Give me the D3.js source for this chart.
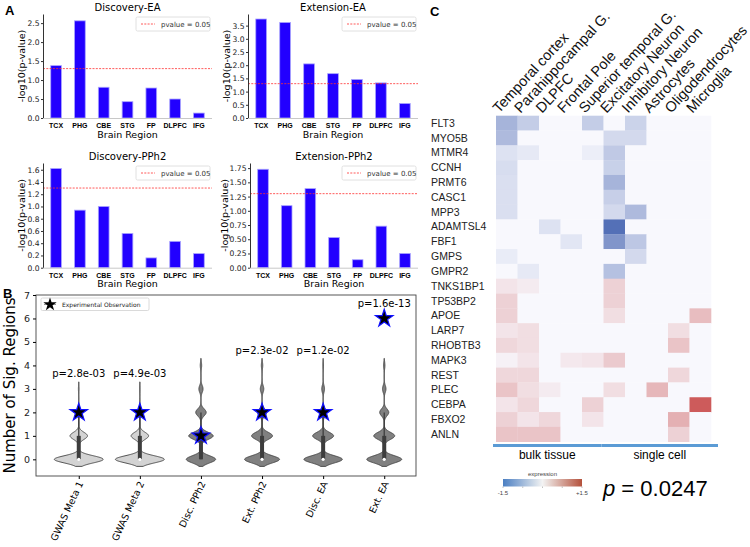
<!DOCTYPE html>
<html>
<head>
<meta charset="utf-8">
<script src="https://cdn.jsdelivr.net/npm/d3@7"></script>
<style>
  body { margin: 0; background: #fff; }
  svg { display: block; }
</style>
</head>
<body>
<div class="container"></div>
<script>
// ---- panel A data ----
const regions = ["TCX", "PHG", "CBE", "STG", "FP", "DLPFC", "IFG"];
const discoveryEA = [1.38, 2.56, 0.81, 0.43, 0.79, 0.5, 0.13];
const extensionEA = [3.75, 3.62, 2.05, 1.68, 1.46, 1.33, 0.55];
const discoveryPPh2 = [1.62, 0.94, 1.0, 0.56, 0.16, 0.43, 0.23];
const extensionPPh2 = [1.73, 1.09, 1.39, 0.53, 0.14, 0.73, 0.25];
const pThreshold = 0.05;

// ---- panel B data ----
const violinGroups = ["GWAS Meta 1", "GWAS Meta 2", "Disc. PPh2", "Ext. PPh2", "Disc. EA", "Ext. EA"];
// share of null draws with 0,1,2,3,4 significant regions
const nullFreqs = [
  [0.7, 0.25, 0.04, 0.01],
  [0.7, 0.25, 0.04, 0.01],
  [0.42, 0.35, 0.15, 0.06, 0.02],
  [0.5, 0.3, 0.13, 0.05, 0.02],
  [0.55, 0.3, 0.1, 0.04, 0.01],
  [0.5, 0.3, 0.13, 0.05, 0.02],
];
const observed = [2, 2, 1, 2, 2, 6];
const pLabels = ["p=2.8e-03", "p=4.9e-03", "", "p=2.3e-02", "p=1.2e-02", "p=1.6e-13"];
const lightGroups = [true, true, false, false, false, false];

// ---- panel C data ----
const cellTypes = ["Temporal cortex", "Parahippocampal G.", "DLPFC", "Frontal Pole",
  "Superior temporal G.", "Excitatory Neuron", "Inhibitory Neuron", "Astrocytes",
  "Oligodendrocytes", "Microglia"];
const genes = ["FLT3", "MYO5B", "MTMR4", "CCNH", "PRMT6", "CASC1", "MPP3", "ADAMTSL4",
  "FBF1", "GMPS", "GMPR2", "TNKS1BP1", "TP53BP2", "APOE", "LARP7", "RHOBTB3", "MAPK3",
  "REST", "PLEC", "CEBPA", "FBXO2", "ANLN"];
const expression = [
  [-0.55, -0.35, 0, 0, -0.35, 0, -0.3, 0, 0, 0],
  [-0.5, 0, 0, 0, 0, -0.25, -0.25, 0, 0, 0],
  [-0.18, -0.12, 0, 0, -0.08, -0.38, 0, 0, 0, 0],
  [-0.22, 0, 0, 0, 0, -0.32, 0, 0, 0, 0],
  [-0.2, 0, 0, 0, 0, -0.55, 0, 0, 0, 0],
  [-0.2, 0, 0, 0, 0, -0.33, 0, 0, 0, 0],
  [-0.2, 0, 0, 0, 0, -0.25, -0.5, 0, 0, 0],
  [0, 0, -0.18, 0, 0, -1.1, 0, 0, 0, 0],
  [0, 0, 0, -0.15, 0, -0.8, -0.4, 0, 0, 0],
  [-0.1, 0, 0, 0, 0, 0, -0.25, 0, 0, 0],
  [0, -0.12, 0, 0, 0, -0.45, 0, 0, 0, 0],
  [0.15, 0.1, 0, 0, 0, 0.3, 0, 0, 0, 0],
  [0.3, 0, 0, 0, 0, 0.3, 0, 0, 0, 0],
  [0.3, 0, 0, 0, 0, 0.2, 0, 0, 0, 0.45],
  [0.15, 0.2, 0, 0, 0, 0, 0, 0, 0.2, 0],
  [0.25, 0.2, 0, 0, 0, 0, 0, 0, 0.4, 0],
  [0.05, 0.15, 0, 0.12, 0.15, 0.35, 0, 0, 0, 0],
  [0.25, 0.25, 0, 0, 0, 0, 0, 0, 0.25, 0],
  [0.4, 0.2, 0.1, 0, 0, 0.2, 0, 0.5, 0, 0],
  [0.15, 0.25, 0, 0, 0.3, 0, 0, 0, 0, 1.2],
  [0.3, 0.15, 0.25, 0, 0.15, 0, 0, 0, 0.55, 0],
  [0.4, 0.4, 0.4, 0, 0, 0, 0, 0, 0.3, 0],
];
const groupNames = ["bulk tissue", "single cell"];
const groupSizes = [5, 5];
const colorRange = [-1.5, 1.5];
const enrichmentP = "0.0247";

const W = 750, H = 547;
const mpl = "'DejaVu Sans', sans-serif";
const arial = "'Liberation Sans', Arial, sans-serif";

const svg = d3.create("svg").attr("width", W).attr("height", H).attr("viewBox", [0, 0, W, H]);
svg.append("rect").attr("width", W).attr("height", H).attr("fill", "#fff");

// panel letters
[["A", 5, 15], ["B", 3, 298], ["C", 430, 16]].forEach(([t, x, y]) => {
  svg.append("text").attr("x", x).attr("y", y).text(t)
    .style("font-family", arial).style("font-weight", "bold").style("font-size", "13px");
});

// ---------------- panel A ----------------
function barPanel(vals, cfg) {
  const g = svg.append("g");
  const x = d3.scaleLinear().domain([-0.55, 6.55]).range([cfg.left, cfg.right]);
  const y = d3.scaleLinear().domain([0, cfg.ymax]).range([cfg.bottom, cfg.top]);
  const bw = x(0.45) - x(0);

  g.selectAll("rect.bar").data(vals).join("rect")
    .attr("class", "bar")
    .attr("x", (d, i) => x(i) - bw / 2)
    .attr("y", (d) => y(d))
    .attr("width", bw)
    .attr("height", (d) => y(0) - y(d))
    .attr("fill", "#2200ff")
    .attr("stroke", "#a9a4ff")
    .attr("stroke-width", 0.8);

  // threshold line
  const thr = -Math.log10(pThreshold);
  g.append("line").attr("x1", cfg.left).attr("x2", cfg.right)
    .attr("y1", y(thr)).attr("y2", y(thr))
    .attr("stroke", "#ff3030").attr("stroke-width", 0.8).attr("stroke-dasharray", "2,1.3");

  // y axis
  const ya = g.append("g").attr("transform", `translate(${cfg.left},0)`)
    .call(d3.axisLeft(y).tickValues(cfg.ticks).tickFormat(d3.format(cfg.fmt))
      .tickSize(2).tickPadding(1.5).tickSizeOuter(0));
  ya.select(".domain").attr("stroke", "#333");
  ya.selectAll(".tick line").attr("stroke", "#333");
  ya.selectAll("text").style("font-family", mpl).style("font-size", "7.6px").attr("fill", "#222");

  // x axis
  g.append("line").attr("x1", cfg.left).attr("x2", cfg.right)
    .attr("y1", cfg.bottom + 0.5).attr("y2", cfg.bottom + 0.5)
    .attr("stroke", "#c8c8c8").attr("stroke-width", 1);
  g.selectAll("text.xt").data(regions).join("text").attr("class", "xt")
    .attr("x", (d, i) => x(i)).attr("y", cfg.bottom + 10)
    .attr("text-anchor", "middle").text((d) => d)
    .style("font-family", arial).style("font-weight", "bold").style("font-size", "7px");

  const cx = (cfg.left + cfg.right) / 2;
  g.append("text").attr("x", cx).attr("y", cfg.bottom + 19.5).attr("text-anchor", "middle")
    .text("Brain Region").style("font-family", mpl).style("font-size", "9.5px");
  g.append("text").attr("x", cx).attr("y", cfg.top - 3).attr("text-anchor", "middle")
    .text(cfg.title).style("font-family", mpl).style("font-size", "10px");
  g.append("text")
    .attr("transform", `translate(${cfg.left - cfg.labelGap},${(cfg.top + cfg.bottom) / 2}) rotate(-90)`)
    .attr("text-anchor", "middle").text("-log10(p-value)")
    .style("font-family", mpl).style("font-size", "9.5px");

  // legend
  const lx = cfg.right - 76, ly = cfg.top + 3;
  g.append("rect").attr("x", lx).attr("y", ly).attr("width", 74).attr("height", 14)
    .attr("rx", 1.5).attr("fill", "#fff").attr("stroke", "#d8d8d8").attr("stroke-width", 0.8);
  g.append("line").attr("x1", lx + 5).attr("x2", lx + 19).attr("y1", ly + 7).attr("y2", ly + 7)
    .attr("stroke", "#ff3030").attr("stroke-width", 0.8).attr("stroke-dasharray", "2,1.3");
  g.append("text").attr("x", lx + 25).attr("y", ly + 9.5).text("pvalue = 0.05")
    .style("font-family", mpl).style("font-size", "7px").attr("fill", "#333");
}

barPanel(discoveryEA, { title: "Discovery-EA", left: 43, right: 212, top: 14, bottom: 118,
  ymax: 2.74, ticks: d3.range(0, 2.51, 0.5), fmt: ".1f", labelGap: 18 });
barPanel(extensionEA, { title: "Extension-EA", left: 248, right: 418, top: 14, bottom: 118,
  ymax: 3.94, ticks: d3.range(0, 3.51, 0.5), fmt: ".1f", labelGap: 18 });
barPanel(discoveryPPh2, { title: "Discovery-PPh2", left: 43, right: 212, top: 163, bottom: 267.7,
  ymax: 1.71, ticks: d3.range(0, 1.61, 0.2), fmt: ".1f", labelGap: 18 });
barPanel(extensionPPh2, { title: "Extension-PPh2", left: 250, right: 418, top: 163, bottom: 267.7,
  ymax: 1.84, ticks: d3.range(0, 1.76, 0.25), fmt: ".2f", labelGap: 22 });

// ---------------- panel B ----------------
const bLeft = 36, bRight = 416, bTop = 295, bBottom = 476;
const xB = d3.scaleLinear().domain([-0.7, 5.52]).range([bLeft, bRight]);
const yB = d3.scaleLinear().domain([-0.71, 7]).range([bBottom, bTop]);
const gB = svg.append("g");

const kbw = 0.15;
function density(freqs, v) {
  return d3.sum(freqs, (f, k) => f * Math.exp(-0.5 * ((v - k) / kbw) ** 2));
}
const allDens = nullFreqs.map((fr) => {
  const hi = fr.length - 1;
  const grid = d3.range(-2 * kbw, hi + 2 * kbw + 1e-9, 0.01);
  return grid.map((v) => [v, density(fr, v)]);
});
const maxDens = d3.max(allDens, (a) => d3.max(a, (d) => d[1]));
const halfMax = 0.4; // in group units

allDens.forEach((pts, i) => {
  const area = d3.area()
    .y((d) => yB(d[0]))
    .x0((d) => xB(i - (d[1] / maxDens) * halfMax))
    .x1((d) => xB(i + (d[1] / maxDens) * halfMax))
    .curve(d3.curveLinear);
  gB.append("path").datum(pts).attr("d", area)
    .attr("fill", lightGroups[i] ? "#d3d3d3" : "#808080")
    .attr("stroke", "#404040").attr("stroke-width", 0.9);

  // inner box from the frequencies
  const fr = nullFreqs[i];
  const cum = d3.cumsum(fr);
  const q = (p) => cum.findIndex((c) => c >= p - 1e-9);
  const q1 = q(0.25), med = q(0.5), q3 = q(0.75);
  const iqr = q3 - q1;
  const whiskHi = d3.max(fr.map((f, k) => (f > 0 && k <= q3 + 1.5 * iqr ? k : 0)));
  gB.append("line").attr("x1", xB(i)).attr("x2", xB(i))
    .attr("y1", yB(q1)).attr("y2", yB(whiskHi))
    .attr("stroke", "#3d3d3d").attr("stroke-width", 1.3);
  gB.append("line").attr("x1", xB(i)).attr("x2", xB(i))
    .attr("y1", yB(q1)).attr("y2", yB(q3))
    .attr("stroke", "#3d3d3d").attr("stroke-width", 4);
  gB.append("circle").attr("cx", xB(i)).attr("cy", yB(med)).attr("r", 1.6).attr("fill", "#fff");
});

const star = d3.symbol().type(d3.symbolStar).size(95);
gB.selectAll("path.obs").data(observed).join("path").attr("class", "obs")
  .attr("d", star)
  .attr("transform", (d, i) => `translate(${xB(i)},${yB(d)})`)
  .attr("fill", "#000").attr("stroke", "#1010ff").attr("stroke-width", 1.2);

gB.selectAll("text.pl").data(pLabels).join("text").attr("class", "pl")
  .attr("x", (d, i) => xB(i))
  .attr("y", (d, i) => yB(Math.max(nullFreqs[i].length - 1 + 2 * kbw + 0.2, observed[i] + 0.5)))
  .attr("text-anchor", "middle").text((d) => d)
  .style("font-family", mpl).style("font-size", "10px");

// frame
gB.append("rect").attr("x", bLeft).attr("y", bTop).attr("width", bRight - bLeft)
  .attr("height", bBottom - bTop).attr("fill", "none").attr("stroke", "#444").attr("stroke-width", 0.9);

const yaB = gB.append("g").attr("transform", `translate(${bLeft},0)`)
  .call(d3.axisLeft(yB).tickValues(d3.range(0, 8)).tickSize(3).tickSizeOuter(0));
yaB.select(".domain").remove();
yaB.selectAll("text").style("font-family", mpl).style("font-size", "9.5px").attr("fill", "#222");

const xaB = gB.append("g").attr("transform", `translate(0,${bBottom})`)
  .call(d3.axisBottom(xB).tickValues(d3.range(violinGroups.length)).tickSize(3)
    .tickFormat((d) => violinGroups[d]));
xaB.select(".domain").remove();
xaB.selectAll("text")
  .attr("transform", "rotate(-65)")
  .attr("text-anchor", "end")
  .attr("dx", "-0.5em").attr("dy", "0.1em")
  .style("font-family", mpl).style("font-size", "9.5px");

gB.append("text")
  .attr("transform", `translate(15,${(bTop + bBottom) / 2}) rotate(-90)`)
  .attr("text-anchor", "middle").text("Number of Sig. Regions")
  .style("font-family", mpl).style("font-size", "15px");

// legend
gB.append("rect").attr("x", 41).attr("y", 298).attr("width", 108).attr("height", 12.5)
  .attr("rx", 1.5).attr("fill", "#fff").attr("stroke", "#d0d0d0").attr("stroke-width", 0.8);
gB.append("line").attr("x1", 44).attr("x2", 56).attr("y1", 304.3).attr("y2", 304.3)
  .attr("stroke", "#555").attr("stroke-width", 0.8);
gB.append("path").attr("d", d3.symbol().type(d3.symbolStar).size(55))
  .attr("transform", "translate(50,304.5)").attr("fill", "#000");
gB.append("text").attr("x", 62).attr("y", 306.8).text("Experimental Observation")
  .style("font-family", mpl).style("font-size", "6px").attr("fill", "#222");

// ---------------- panel C ----------------
const hLeft = 496, hRight = 711, hTop = 115.7, hBottom = 441.7;
const xC = d3.scaleBand().domain(d3.range(cellTypes.length)).range([hLeft, hRight]);
const yC = d3.scaleBand().domain(d3.range(genes.length)).range([hTop, hBottom]);
const heatColor = d3.scaleLinear().domain([colorRange[0], 0, colorRange[1]])
  .range(["#193f9e", "#f8f8fd", "#c23433"]).clamp(true);
const gC = svg.append("g");

const cells = [];
expression.forEach((row, r) => row.forEach((v, c) => cells.push({ r, c, v })));
gC.selectAll("rect.cell").data(cells).join("rect").attr("class", "cell")
  .attr("x", (d) => xC(d.c)).attr("y", (d) => yC(d.r))
  .attr("width", xC.bandwidth() + 0.3).attr("height", yC.bandwidth() + 0.3)
  .attr("fill", (d) => heatColor(d.v));

gC.selectAll("text.gene").data(genes).join("text").attr("class", "gene")
  .attr("x", 431).attr("y", (d, i) => yC(i) + yC.bandwidth() / 2 + 3.6)
  .text((d) => d).style("font-family", arial).style("font-size", "10.5px").attr("fill", "#222");

gC.selectAll("text.col").data(cellTypes).join("text").attr("class", "col")
  .attr("transform", (d, i) => `translate(${xC(i) + 3},${hTop - 2}) rotate(-47)`)
  .text((d) => d).style("font-family", arial).style("font-size", "14.5px").attr("fill", "#111");

// group bars
let start = 0;
groupNames.forEach((name, gi) => {
  const x0 = xC(start) - 3 + (gi > 0 ? 1 : 0);
  const x1 = xC(start + groupSizes[gi] - 1) + xC.bandwidth() + (gi > 0 ? 7 : -2);
  gC.append("line").attr("x1", x0).attr("x2", x1).attr("y1", 445.5).attr("y2", 445.5)
    .attr("stroke", "#5b9bd5").attr("stroke-width", 3);
  gC.append("text").attr("x", (x0 + x1) / 2).attr("y", 458.5).attr("text-anchor", "middle")
    .text(name).style("font-family", arial).style("font-size", "12px");
  start += groupSizes[gi];
});

// colour bar
const cbar = d3.scaleLinear().domain([colorRange[0], 0, colorRange[1]])
  .range(["#4b7fc2", "#f3f3f3", "#b4513b"]);
const cbX = d3.scaleLinear().domain(colorRange).range([503, 582]);
const grad = svg.append("defs").append("linearGradient").attr("id", "cbgrad");
d3.range(0, 1.001, 0.1).forEach((t) => {
  grad.append("stop").attr("offset", t).attr("stop-color", cbar(colorRange[0] + t * (colorRange[1] - colorRange[0])));
});
gC.append("rect").attr("x", cbX(colorRange[0])).attr("y", 479).attr("width", cbX(colorRange[1]) - cbX(colorRange[0]))
  .attr("height", 7.5).attr("fill", "url(#cbgrad)");
gC.selectAll("line.cbt").data([-1.5, -0.75, 0, 0.75, 1.5]).join("line").attr("class", "cbt")
  .attr("x1", (d) => cbX(d)).attr("x2", (d) => cbX(d)).attr("y1", 486.5).attr("y2", 488)
  .attr("stroke", "#999").attr("stroke-width", 0.6);
gC.append("text").attr("x", (cbX(-1.5) + cbX(1.5)) / 2).attr("y", 475.5).attr("text-anchor", "middle")
  .text("expression").style("font-family", arial).style("font-size", "6px").attr("fill", "#444");
gC.append("text").attr("x", cbX(-1.5)).attr("y", 494.5).attr("text-anchor", "middle")
  .text("-1.5").style("font-family", arial).style("font-size", "6px").attr("fill", "#444");
gC.append("text").attr("x", cbX(1.5)).attr("y", 494.5).attr("text-anchor", "middle")
  .text("+1.5").style("font-family", arial).style("font-size", "6px").attr("fill", "#444");

const pt = gC.append("text").attr("x", 603).attr("y", 496)
  .style("font-family", arial).style("font-size", "22px");
pt.append("tspan").style("font-style", "italic").text("p");
pt.append("tspan").text(" = " + enrichmentP);

document.querySelector(".container").append(svg.node());
</script>
</body>
</html>
